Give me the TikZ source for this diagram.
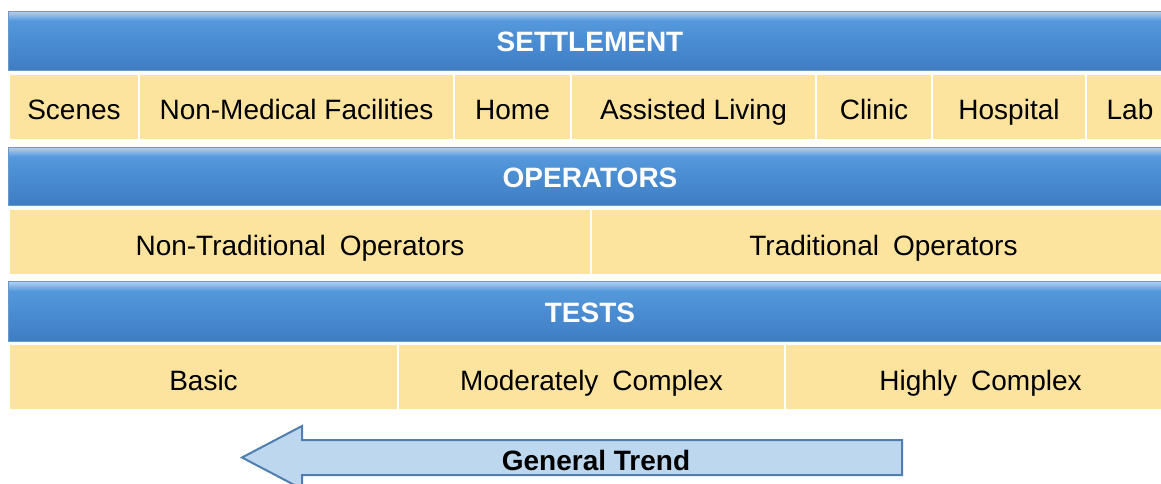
\documentclass[tikz,border=0pt]{standalone}
\usepackage{fontspec}
\setmainfont{Liberation Sans}
\definecolor{ht}{HTML}{B2D1F1}
\definecolor{hm2}{HTML}{5598DB}
\definecolor{hm}{HTML}{4B8ED4}
\definecolor{hb}{HTML}{3F7DC3}
\definecolor{hborder}{HTML}{6A98C8}
\definecolor{cellfill}{HTML}{FDE49E}
\definecolor{arrfill}{HTML}{BDD7EE}
\definecolor{arrdraw}{HTML}{4F7FAF}
\pgfdeclareverticalshading{hdrshade}{100bp}{color(0bp)=(hb); color(25bp)=(hb); color(52bp)=(hm); color(67bp)=(hm2); color(75bp)=(ht); color(100bp)=(ht)}
\newcommand{\wsp}{\hspace{0.5em}}
\tikzset{
  hdr/.style={shading=hdrshade, draw=hborder, line width=0.8pt, inner sep=0pt,
    anchor=north west, text=white, font=\fontsize{28}{30}\selectfont\bfseries,
    text height=23pt, text depth=0pt},
  cellbox/.style={fill=cellfill, draw=white, line width=2pt, inner sep=0pt,
    anchor=north west, text=black, font=\fontsize{28}{30}\selectfont,
    text height=26pt, text depth=0pt},
  trendarrow/.style={fill=arrfill, draw=arrdraw, line width=2pt, line join=miter},
  trendtext/.style={font=\fontsize{28}{30}\selectfont\bfseries, inner sep=0pt,
    text height=23pt, text depth=0pt}
}
\begin{document}
\begin{tikzpicture}[x=1pt,y=-1pt]
\useasboundingbox (0,0) rectangle (1161,484);
\fill[white] (0,0) rectangle (1161,484);
\clip (0,0) rectangle (1161,484);
% SETTLEMENT
\node[hdr, minimum width=1170pt, minimum height=59pt] (h1) at (8,11) {};
\node[text=white, font=\fontsize{28}{30}\selectfont\bfseries, inner sep=0pt, text height=23pt, text depth=0pt] (t1) at (590,40.5) {SETTLEMENT};
\node[cellbox, minimum width=130pt, minimum height=66pt] (c11) at (8,73) {Scenes};
\node[cellbox, minimum width=315pt, minimum height=66pt] (c12) at (138,73) {Non-Medical Facilities};
\node[cellbox, minimum width=117pt, minimum height=66pt] (c13) at (453,73) {Home};
\node[cellbox, minimum width=245pt, minimum height=66pt] (c14) at (570,73) {Assisted Living};
\node[cellbox, minimum width=116pt, minimum height=66pt] (c15) at (815,73) {Clinic};
\node[cellbox, minimum width=154pt, minimum height=66pt] (c16) at (931,73) {Hospital};
\node[cellbox, minimum width=88pt, minimum height=66pt] (c17) at (1085,73) {Lab};
% OPERATORS
\node[hdr, minimum width=1170pt, minimum height=58pt] (h2) at (8,147) {};
\node[text=white, font=\fontsize{28}{30}\selectfont\bfseries, inner sep=0pt, text height=23pt, text depth=0pt] (t2) at (590,176) {OPERATORS};
\node[cellbox, minimum width=582pt, minimum height=66pt] (c21) at (8,208) {Non-Traditional\wsp Operators};
\node[cellbox, minimum width=585pt, minimum height=66pt] (c22) at (590,208) {Traditional\wsp Operators};
% TESTS
\node[hdr, minimum width=1170pt, minimum height=60pt] (h3) at (8,281) {};
\node[text=white, font=\fontsize{28}{30}\selectfont\bfseries, inner sep=0pt, text height=23pt, text depth=0pt] (t3) at (590,311) {TESTS};
\node[cellbox, minimum width=389pt, minimum height=66pt] (c31) at (8,343) {Basic};
\node[cellbox, minimum width=387pt, minimum height=66pt] (c32) at (397,343) {Moderately\wsp Complex};
\node[cellbox, minimum width=391pt, minimum height=66pt] (c33) at (784,343) {Highly\wsp Complex};
% General trend arrow
\draw[trendarrow] (902,440) -- (302,440) -- (302,426) -- (242,457.5) -- (302,489) -- (302,475) -- (902,475) -- cycle;
\node[trendtext] (trend) at (596,459) {General Trend};
\end{tikzpicture}
\end{document}
